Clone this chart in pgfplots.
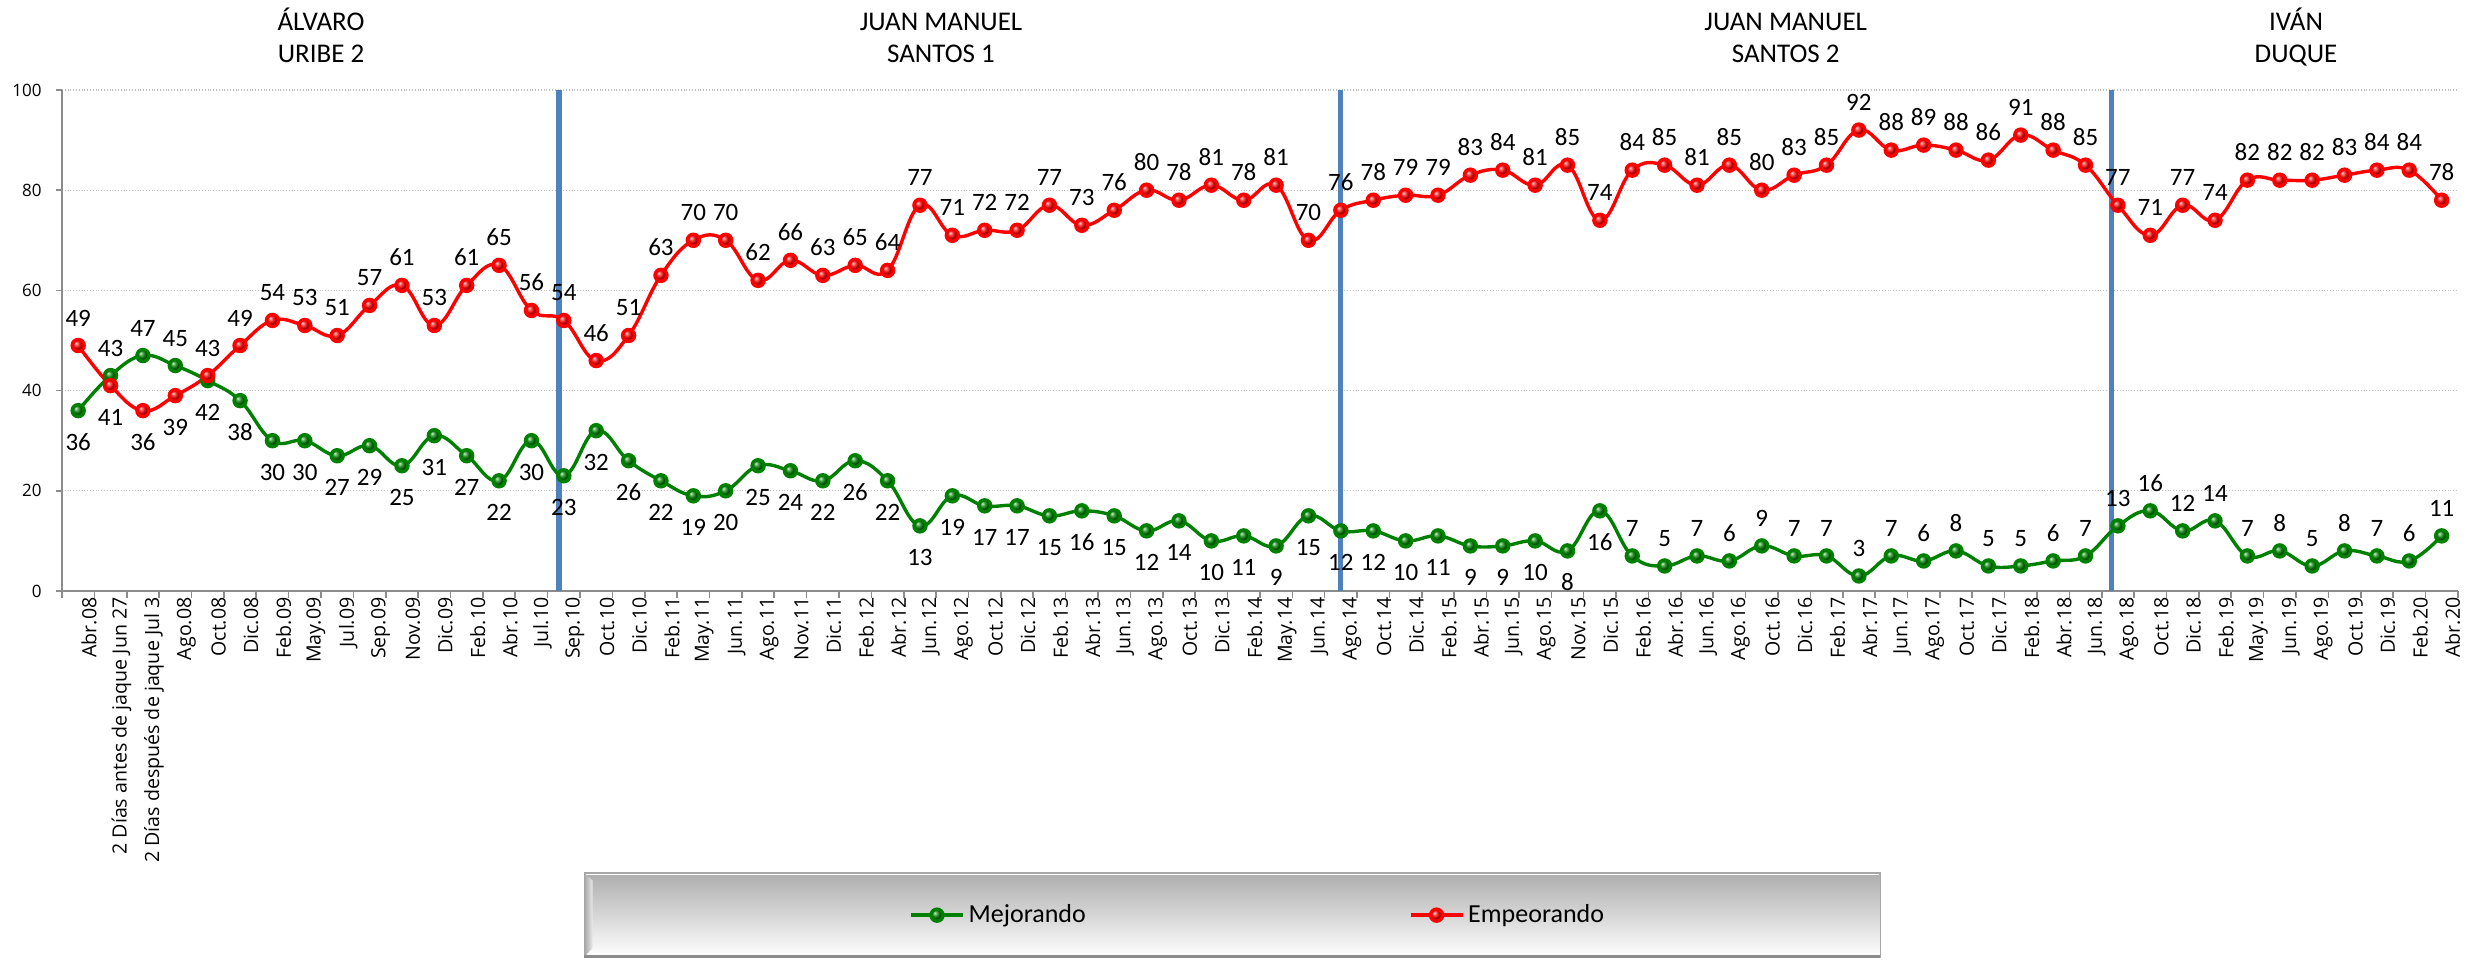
\documentclass[border=0pt]{standalone}
\usepackage{pgfplots}
\pgfplotsset{compat=1.18}
\usepackage{pgfplotstable}
\usepackage{fontspec}
\setmainfont{Carlito}
\newfontfamily\labfont{Open Sans}
\definecolor{myred}{RGB}{255,0,0}
\definecolor{mygreen}{RGB}{0,128,0}
\definecolor{myblue}{RGB}{79,129,189}

\pgfplotstableread{
x mej emp
0 36 49
1 43 41
2 47 36
3 45 39
4 42 43
5 38 49
6 30 54
7 30 53
8 27 51
9 29 57
10 25 61
11 31 53
12 27 61
13 22 65
14 30 56
15 23 54
16 32 46
17 26 51
18 22 63
19 19 70
20 20 70
21 25 62
22 24 66
23 22 63
24 26 65
25 22 64
26 13 77
27 19 71
28 17 72
29 17 72
30 15 77
31 16 73
32 15 76
33 12 80
34 14 78
35 10 81
36 11 78
37 9 81
38 15 70
39 12 76
40 12 78
41 10 79
42 11 79
43 9 83
44 9 84
45 10 81
46 8 85
47 16 74
48 7 84
49 5 85
50 7 81
51 6 85
52 9 80
53 7 83
54 7 85
55 3 92
56 7 88
57 6 89
58 8 88
59 5 86
60 5 91
61 6 88
62 7 85
63 13 77
64 16 71
65 12 77
66 14 74
67 7 82
68 8 82
69 5 82
70 8 83
71 7 84
72 6 84
73 11 78
}\data

\begin{document}
\begin{tikzpicture}
\path[use as bounding box] (-31pt,-184pt) rectangle (1203pt,295.5pt);
\begin{axis}[
  at={(0,0)}, anchor=south west,
  scale only axis, width=1198pt, height=250.5pt,
  xmin=-0.5, xmax=73.5, ymin=0, ymax=100,
  clip=false,
  axis x line*=bottom, axis y line*=left,
  axis line style={black!45, line width=0.8pt},
  tick align=outside,
  major tick length=3pt, minor tick length=3.5pt,
  ytick={0,20,...,100},
  ymajorgrids, major grid style={black!25, densely dotted, line width=0.6pt},
  ytick style={black!45, line width=0.8pt, solid},
  yticklabel style={font=\labfont\fontsize{8.5}{10}\selectfont, inner sep=0pt, xshift=-7pt},
  /pgf/number format/assume math mode=true,
  xtick={0,...,73},
  minor xtick={-0.5,0.5,...,73.5},
  major x tick style={draw=none},
  minor x tick style={black!45, line width=0.8pt},
  xticklabel style={rotate=90, anchor=east, inner sep=0pt, yshift=-5.5pt, font=\labfont\fontsize{9.8}{12}\selectfont},
  xticklabels={Abr.08, 2 Días antes de jaque Jun 27, 2 Días después de jaque Jul 3, Ago.08, Oct.08, Dic.08, Feb.09, May.09, Jul.09, Sep.09, Nov.09, Dic.09, Feb.10, Abr.10, Jul.10, Sep.10, Oct.10, Dic.10, Feb.11, May.11, Jun.11, Ago.11, Nov.11, Dic.11, Feb.12, Abr.12, Jun.12, Ago.12, Oct.12, Dic.12, Feb.13, Abr.13, Jun.13, Ago.13, Oct.13, Dic.13, Feb.14, May.14, Jun.14, Ago.14, Oct.14, Dic.14, Feb.15, Abr.15, Jun.15, Ago.15, Nov.15, Dic.15, Feb.16, Abr.16, Jun.16, Ago.16, Oct.16, Dic.16, Feb.17, Abr.17, Jun.17, Ago.17, Oct.17, Dic.17, Feb.18, Abr.18, Jun.18, Ago.18, Oct.18, Dic.18, Feb.19, May.19, Jun.19, Ago.19, Oct.19, Dic.19, Feb.20, Abr.20},
  legend columns=2,
  legend style={at={(rel axis cs:0.3535,-0.647)}, anchor=west, draw=none, fill=none, inner sep=0pt,
    font=\fontsize{13}{15}\selectfont, /tikz/every even column/.append style={column sep=159.5pt}},
  legend image code/.code={\draw[mark repeat=2, mark phase=2, #1] plot coordinates {(0pt,0pt) (13pt,0pt) (26pt,0pt)};},
  labup/.style={draw=none, mark=none, forget plot, point meta=explicit symbolic, nodes near coords,
    every node near coord/.append style={anchor=base, inner sep=0pt, yshift=9.75pt, font=\fontsize{12.5}{14}\selectfont, text=black}},
  labdown/.style={draw=none, mark=none, forget plot, point meta=explicit symbolic, nodes near coords,
    every node near coord/.append style={anchor=base, inner sep=0pt, yshift=-19.75pt, font=\fontsize{12.5}{14}\selectfont, text=black}},
]
% vertical separators
\addplot[myblue, line width=2.6pt, mark=none, forget plot] coordinates {(14.85,0) (14.85,100)};
\addplot[myblue, line width=2.6pt, mark=none, forget plot] coordinates {(39.0,0) (39.0,100)};
\addplot[myblue, line width=2.6pt, mark=none, forget plot] coordinates {(62.8,0) (62.8,100)};

% legend background box
\shade[top color=black!32, middle color=black!9, bottom color=white] (rel axis cs:0.218,-0.563) rectangle (rel axis cs:0.759,-0.7305);
\shade[left color=black!35, right color=black!8] (rel axis cs:0.218,-0.563) -- (rel axis cs:0.2215,-0.578) -- (rel axis cs:0.2215,-0.712) -- (rel axis cs:0.218,-0.7305) -- cycle;
\draw[white, line width=0.8pt] (rel axis cs:0.2185,-0.5655) -- (rel axis cs:0.7585,-0.5655);
\draw[black!35, line width=0.6pt] (rel axis cs:0.218,-0.563) rectangle (rel axis cs:0.759,-0.7305);
\draw[black!45, line width=1.5pt] (rel axis cs:0.218,-0.7305) -- (rel axis cs:0.759,-0.7305);

\addplot[mygreen, line width=1.7pt, smooth, tension=0.7, mark=ball, mark size=3pt, mark options={ball color=mygreen}]
  table[x=x, y=mej] {\data};
\addlegendentry{Mejorando}
\addplot[myred, line width=1.7pt, smooth, tension=0.7, mark=ball, mark size=3pt, mark options={ball color=myred}]
  table[x=x, y=emp] {\data};
\addlegendentry{Empeorando}

% data labels
\addplot[labup, skip coords between index={0}{1}, skip coords between index={4}{48}] table[x=x, y=mej, meta=mej] {\data};
\addplot[labdown, skip coords between index={1}{4}, skip coords between index={48}{74}] table[x=x, y=mej, meta=mej] {\data};
\addplot[labup, skip coords between index={1}{4}] table[x=x, y=emp, meta=emp] {\data};
\addplot[labdown, skip coords between index={0}{1}, skip coords between index={4}{74}] table[x=x, y=emp, meta=emp] {\data};

% period titles
\node[anchor=base, font=\fontsize{13.5}{16}\selectfont] at (axis cs:7.5,100) [yshift=30pt] {ÁLVARO};
\node[anchor=base, font=\fontsize{13.5}{16}\selectfont] at (axis cs:7.5,100) [yshift=14pt] {URIBE 2};
\node[anchor=base, font=\fontsize{13.5}{16}\selectfont] at (axis cs:26.65,100) [yshift=30pt] {JUAN MANUEL};
\node[anchor=base, font=\fontsize{13.5}{16}\selectfont] at (axis cs:26.65,100) [yshift=14pt] {SANTOS 1};
\node[anchor=base, font=\fontsize{13.5}{16}\selectfont] at (axis cs:52.74,100) [yshift=30pt] {JUAN MANUEL};
\node[anchor=base, font=\fontsize{13.5}{16}\selectfont] at (axis cs:52.74,100) [yshift=14pt] {SANTOS 2};
\node[anchor=base, font=\fontsize{13.5}{16}\selectfont] at (axis cs:68.5,100) [yshift=30pt] {IVÁN};
\node[anchor=base, font=\fontsize{13.5}{16}\selectfont] at (axis cs:68.5,100) [yshift=14pt] {DUQUE};
\end{axis}
\end{tikzpicture}
\end{document}
